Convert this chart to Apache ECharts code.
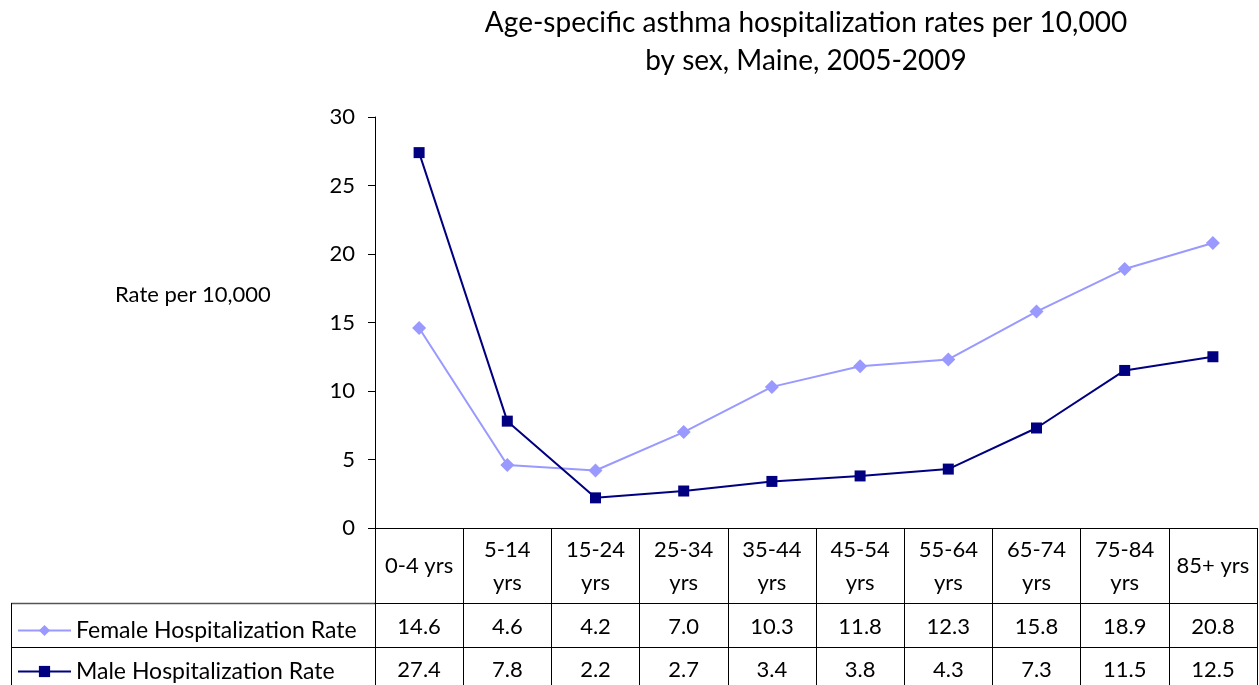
<!DOCTYPE html>
<html><head><meta charset="utf-8">
<script src="https://cdn.jsdelivr.net/npm/echarts@6/dist/echarts.min.js"></script>
<style>html,body{margin:0;padding:0;background:#fff}#c{width:1259px;height:685px}</style>
</head><body><div id="c"></div>
<script>
const titleText = 'Age-specific asthma hospitalization rates per 10,000\nby sex, Maine, 2005-2009';
const yAxisTitle = 'Rate per 10,000';
const categories = ['0-4 yrs','5-14 yrs','15-24 yrs','25-34 yrs','35-44 yrs','45-54 yrs','55-64 yrs','65-74 yrs','75-84 yrs','85+ yrs'];
const femaleName = 'Female Hospitalization Rate';
const maleName = 'Male Hospitalization Rate';
const femaleValues = [14.6, 4.6, 4.2, 7.0, 10.3, 11.8, 12.3, 15.8, 18.9, 20.8];
const maleValues = [27.4, 7.8, 2.2, 2.7, 3.4, 3.8, 4.3, 7.3, 11.5, 12.5];
const yTicks = {min: 0, max: 30, interval: 5};

const FONT = 'Lato';
const FS = 22;
const chart = echarts.init(document.getElementById('c'), null, {renderer: 'canvas'});
const valueAxis = (offset, values, margin) => ({
  type: 'category', data: categories, position: 'bottom', offset: offset,
  axisLine: {show: true, lineStyle: {color: '#000', width: 1}},
  axisTick: {show: false},
  axisLabel: {interval: 0, margin: margin, verticalAlign: 'middle', fontFamily: FONT, fontSize: FS, color: '#000',
    formatter: (v, i) => values[i].toFixed(1)}
});
const legendFor = (name, top) => ({
  orient: 'vertical', left: 17, top: top, padding: 0, itemWidth: 53, itemHeight: 14,
  textStyle: {fontFamily: FONT, fontSize: 23, color: '#000'}, data: [name]
});
chart.setOption({
  animation: false,
  backgroundColor: '#fff',
  title: {text: titleText, left: 801, textAlign: 'center', top: -1,
    textStyle: {fontFamily: FONT, fontSize: 28, fontWeight: 'normal', color: '#000', lineHeight: 38}},
  grid: {left: 375, right: 2, top: 117, bottom: 157, containLabel: false},
  legend: [legendFor(femaleName, 619), legendFor(maleName, 660)],
  xAxis: [
    {type: 'category', data: categories, boundaryGap: true,
      axisLine: {lineStyle: {color: '#000', width: 1}},
      axisTick: {show: true, inside: false, length: 157, lineStyle: {color: '#000', width: 1}},
      axisLabel: {interval: 0, margin: 38, verticalAlign: 'middle', lineHeight: 33, fontFamily: FONT, fontSize: FS, color: '#000',
        formatter: v => v.length > 7 ? v.replace(' ', '\n') : v}},
    valueAxis(75, femaleValues, 24),
    valueAxis(119, maleValues, 23)
  ],
  yAxis: {type: 'value', min: yTicks.min, max: yTicks.max, interval: yTicks.interval,
    axisLine: {show: true, lineStyle: {color: '#000', width: 1}},
    axisTick: {show: true, length: 7, lineStyle: {color: '#000'}},
    splitLine: {show: false},
    axisLabel: {margin: 20, fontFamily: FONT, fontSize: FS, color: '#000'}},
  graphic: [
    {type: 'text', left: 115, top: 284, style: {text: yAxisTitle, font: '22px ' + FONT, fill: '#000'}},
    {type: 'line', shape: {x1: 11, y1: 603.5, x2: 375, y2: 603.5}, style: {stroke: '#555', lineWidth: 1.5}},
    {type: 'line', shape: {x1: 11, y1: 647.5, x2: 375, y2: 647.5}, style: {stroke: '#000', lineWidth: 1}},
    {type: 'line', shape: {x1: 11.5, y1: 603, x2: 11.5, y2: 685}, style: {stroke: '#000', lineWidth: 1}}
  ],
  series: [
    {name: femaleName, type: 'line', data: femaleValues, symbol: 'diamond', symbolSize: 14,
      lineStyle: {color: '#9999FF', width: 2}, itemStyle: {color: '#9999FF'}},
    {name: maleName, type: 'line', data: maleValues, symbol: 'rect', symbolSize: 11,
      lineStyle: {color: '#000080', width: 2}, itemStyle: {color: '#000080'}}
  ]
});
</script></body></html>
